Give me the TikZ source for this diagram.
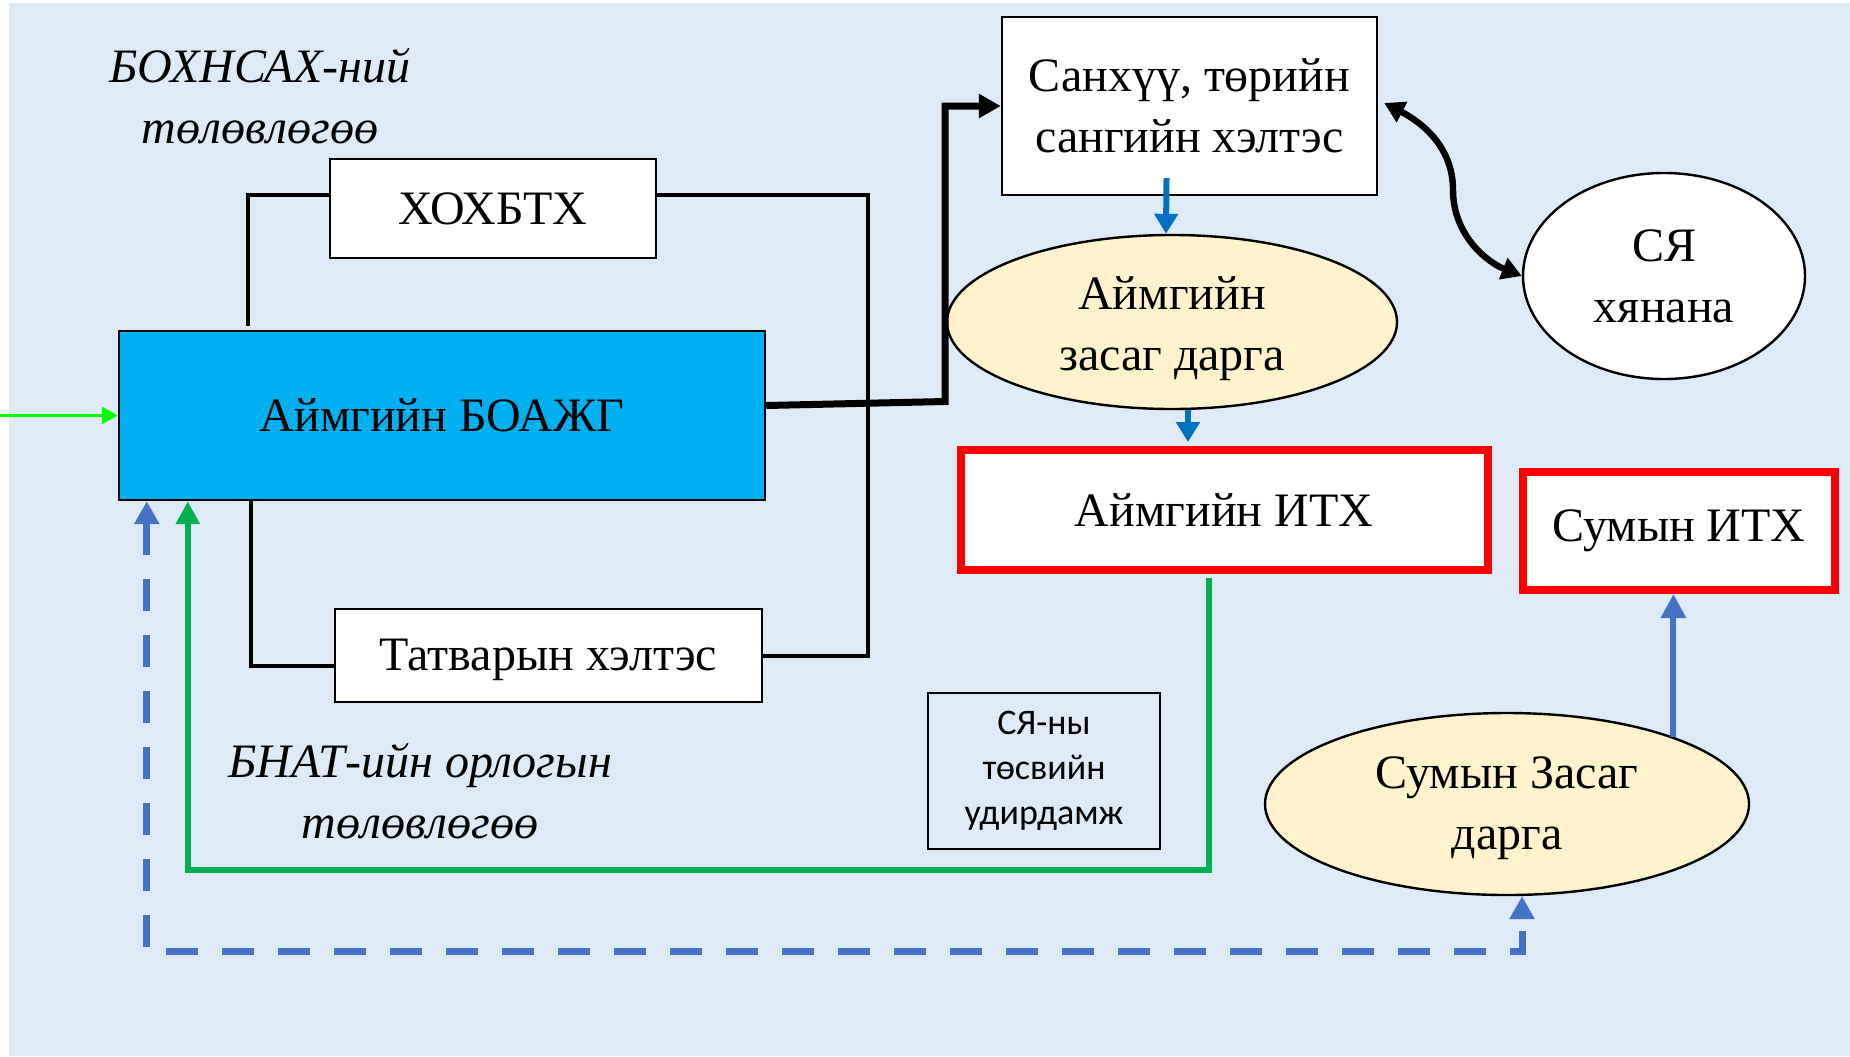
\documentclass[tikz,border=0pt]{standalone}
\usepackage{fontspec}
\setmainfont{Liberation Serif}
\newfontfamily\calfont{Carlito}
\usetikzlibrary{arrows.meta,calc,shapes.geometric}

\definecolor{bgblue}{HTML}{DEEAF6}
\definecolor{boxblue}{HTML}{00B0F0}
\definecolor{paleyellow}{HTML}{FFF2CC}
\definecolor{darkblue}{HTML}{0070C0}
\definecolor{midblue}{HTML}{4472C4}
\definecolor{okgreen}{HTML}{00B050}
\definecolor{limegreen}{HTML}{00FF00}
\definecolor{ithred}{HTML}{FF0000}

\tikzset{
  txt/.style={font=\fontsize{24}{30.5}\selectfont, align=center, inner sep=0pt},
  plainbox/.style={txt, draw, line width=1.2pt, fill=white},
  redbox/.style={txt, draw=ithred, line width=4pt, fill=white},
  oval/.style={txt, ellipse, draw, line width=1.2pt},
  note/.style={font=\itshape\fontsize{24}{30.5}\selectfont, align=center},
  link/.style={line width=2pt},
  mainflow/.style={line width=3.5pt, -{Triangle[length=11pt,width=11.5pt]}},
  swapflow/.style={line width=3.2pt, {Triangle[length=10pt,width=11pt]}-{Triangle[length=10pt,width=11pt]}},
  downflow/.style={darkblue, line width=3pt, -{Triangle[length=10pt,width=11.5pt]}},
  upflow/.style={midblue, line width=3pt, -{Triangle[length=12pt,width=12pt]}},
  greenflow/.style={okgreen, line width=2.8pt, -{Triangle[length=11.5pt,width=11.5pt]}},
  dashflow/.style={midblue, line width=3.5pt, dash pattern=on 16pt off 12pt,
    {Triangle[length=11.5pt,width=12pt]}-{Triangle[length=11.5pt,width=12pt]}},
  inflow/.style={limegreen, line width=1.6pt, -{Triangle[length=8pt,width=8.5pt]}}
}

\begin{document}
\begin{tikzpicture}[x=0.5pt,y=-0.5pt]
\useasboundingbox (0,0) rectangle (1850,1056);
%background
\fill[bgblue] (9,3) rectangle (1850,1056);

%Rectangles
\node[plainbox, minimum width=163pt, minimum height=49.5pt] (hohbth) at (493,208.5) {ХОХБТХ};
\node[plainbox, fill=boxblue, minimum width=323pt, minimum height=84.5pt] (boazhg) at (442,415.5) {Аймгийн БОАЖГ};
\node[plainbox, minimum width=213.5pt, minimum height=46.5pt, text height=20pt] (tatvar) at (548.5,655.5) {Татварын хэлтэс};
\node[plainbox, minimum width=187.5pt, minimum height=89pt] (sanhuu) at (1189.5,106) {Санхүү, төрийн\\сангийн хэлтэс};
\node[redbox, minimum width=263.5pt, minimum height=60pt] (aimagith) at (1224,510) {Аймгийн ИТХ};
\node[redbox, minimum width=156pt, minimum height=59pt] (sumith) at (1679,531) {Сумын ИТХ};
\node[draw, line width=0.9pt, minimum width=116pt, minimum height=78pt, inner sep=0pt, align=center,
  font=\calfont\fontsize{18}{22.5}\selectfont] (tosov) at (1044,771) {СЯ-ны\\төсвийн\\удирдамж};

%Ellipses
\node[oval, fill=paleyellow, minimum width=225pt, minimum height=87pt, text height=54pt] (aimagzd) at (1172,322) {Аймгийн\\засаг дарга};
\node[oval, fill=white, minimum width=141pt, minimum height=103pt] (sya) at (1664,276) {СЯ\\хянана};
\node[oval, fill=paleyellow, minimum width=242pt, minimum height=91pt, text height=51pt] (sumzd) at (1507,804) {Сумын Засаг\\дарга};

% Text Node
\node[note] (plana) at (260,96) {БОХНСАХ-ний\\төлөвлөгөө};
% Text Node
\node[note] (planb) at (420,791) {БНАТ-ийн орлогын\\төлөвлөгөө};

%Connectors
\draw[link] ([yshift=7pt]hohbth.west) -| ($(boazhg.north west)+(130,-4)$);
\draw[link] ([yshift=7pt]hohbth.east) -| ($(tatvar.east)+(105,0)$) -- (tatvar.east);
\draw[link] ($(boazhg.south west)+(133,0)$) |- ([yshift=-5pt]tatvar.west);
\draw[mainflow] ([yshift=5pt]boazhg.east) -- ++(179,-4) |- (sanhuu.west);

\coordinate (bend) at (1453,190);
\draw[swapflow] ([shift={(6,-3)}]sanhuu.east) .. controls +(35,18) and +(0,-45) .. (bend)
  .. controls +(0,45) and +(-35,-14) .. (sya.west);

\draw[downflow] ($(sanhuu.south)+(-23,-18)$) -- ($(aimagzd.north)+(-6,0)$);
\draw[downflow] ($(aimagzd.south)+(16,0)$) -- ($(aimagith.north)+(-36,-4)$);
\draw[upflow] (sumzd.22) -- (sumzd.22 |- sumith.south);

\draw[greenflow] ($(aimagith.south)+(-15,4)$) -- ++(0,292) -| ($(boazhg.south west)+(70,0)$);
\draw[dashflow] ($(boazhg.south west)+(29,0)$) -- ++(0,450) -| ($(sumzd.south)+(15,0)$);

\coordinate (inlet) at (0,415.5);
\draw[inflow] (inlet) -- (boazhg.west);

\end{tikzpicture}
\end{document}
